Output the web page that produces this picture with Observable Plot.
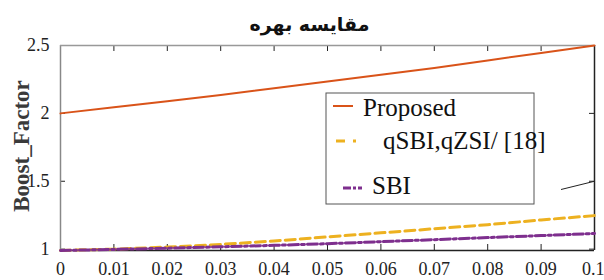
<!DOCTYPE html>
<html>
<head>
<meta charset="utf-8">
<script src="https://cdn.jsdelivr.net/npm/d3@7"></script>
<script src="https://cdn.jsdelivr.net/npm/@observablehq/plot@0.6"></script>
<style>
  html, body { margin: 0; padding: 0; background: #fff; }
  #chart svg { display: block; }
</style>
</head>
<body>
<div id="chart"></div>
<script>
// ---- data ----
const xValues  = [0, 0.01, 0.02, 0.03, 0.04, 0.05, 0.06, 0.07, 0.08, 0.09, 0.1];
const proposed = [2.0, 2.045, 2.09, 2.135, 2.185, 2.235, 2.285, 2.335, 2.39, 2.445, 2.5];
const qsbi     = [0.99, 1.0, 1.015, 1.035, 1.06, 1.09, 1.12, 1.15, 1.18, 1.215, 1.247];
const sbi      = [0.99, 0.998, 1.007, 1.017, 1.028, 1.04, 1.055, 1.07, 1.085, 1.10, 1.115];
const xTicks = [0, 0.01, 0.02, 0.03, 0.04, 0.05, 0.06, 0.07, 0.08, 0.09, 0.1];
const yTicks = [1, 1.5, 2, 2.5];
const strayX = [0.0938, 0.1];
const strayY = [1.44, 1.5];
const seriesNames = ["Proposed", "qSBI,qZSI/ [18]", "SBI"];
const titleText = "مقایسه بهره";
const yLabel = "Boost_Factor";

const W = 604, H = 280;
const mL = 60, mR = 10, mT = 45, mB = 30;
const fw = W - mL - mR, fh = H - mT - mB;
const serif = "'Liberation Serif', 'Times New Roman', serif";

const rows = (ys) => xValues.map((x, i) => ({x, y: ys[i]}));
const stray = strayX.map((x, i) => ({x, y: strayY[i]}));
const fmtX = d => d === 0 ? "0" : (d === 0.1 ? "0.1" : d.toFixed(2));

const colors = ["#D95319", "#EDB120", "#7E2F8E"];

const axisStyle = {tickSize: 0, fontSize: 18, fill: "#222", fontFamily: serif, fontVariant: "normal", label: null};

const plot = Plot.plot({
  width: W, height: H,
  marginLeft: mL, marginRight: mR, marginTop: mT, marginBottom: mB,
  style: {fontFamily: serif, background: "#fff", overflow: "visible"},
  x: {domain: [0, 0.1]},
  y: {domain: [0.99, 2.5]},
  marks: [
    Plot.axisX({...axisStyle, ticks: xTicks.slice(0, -1), tickPadding: 12, tickFormat: fmtX}),
    Plot.axisX({...axisStyle, ticks: xTicks.slice(-1), tickPadding: 12, tickFormat: fmtX, textAnchor: "end", dx: 10}),
    Plot.axisY({...axisStyle, ticks: yTicks, tickPadding: 11, tickFormat: d => String(d)}),
    // inward ticks
    Plot.tickX(xTicks, {x: d => d, insetTop: fh - 6, stroke: "#222", strokeWidth: 1}),
    Plot.tickX(xTicks, {x: d => d, insetBottom: fh - 6, stroke: "#222", strokeWidth: 1}),
    Plot.tickY(yTicks, {y: d => d, insetRight: fw - 5, stroke: "#222", strokeWidth: 1}),
    Plot.tickY(yTicks, {y: d => d, insetLeft: fw - 5, stroke: "#222", strokeWidth: 1}),
    // box
    Plot.ruleX([0], {stroke: "#888", strokeWidth: 1.5}),
    Plot.ruleX([0.1], {stroke: "#222", strokeWidth: 1.5}),
    Plot.ruleY([2.5], {stroke: "#999", strokeWidth: 1.5}),
    Plot.ruleY([0.99], {stroke: "#222", strokeWidth: 1.5}),
    // series
    Plot.line(rows(qsbi), {x: "x", y: "y", stroke: colors[1], strokeWidth: 3, strokeDasharray: "10,5"}),
    Plot.line(rows(sbi), {x: "x", y: "y", stroke: colors[2], strokeWidth: 3, strokeDasharray: "10,3,3,3"}),
    Plot.line(rows(proposed), {x: "x", y: "y", stroke: colors[0], strokeWidth: 2}),
    Plot.line(stray, {x: "x", y: "y", stroke: "#222", strokeWidth: 1}),
    // title and y label
    Plot.text([titleText], {text: d => d, frameAnchor: "top", lineAnchor: "middle", textAnchor: "middle",
      dy: -21, dx: -18, fontSize: 19, fontWeight: "bold", fontFamily: "'DejaVu Sans', sans-serif", fill: "#111"}),
    Plot.text([yLabel], {text: d => d, frameAnchor: "left", rotate: -90, textAnchor: "middle", lineAnchor: "middle",
      dx: -39, dy: -2, fontSize: 23, fontWeight: "bold", fontFamily: serif, fill: "#3a3a3a"})
  ]
});

document.getElementById("chart").appendChild(plot);

// legend
const svg = d3.select(plot);
const lg = svg.append("g").attr("font-family", serif).attr("text-anchor", "start");
lg.append("rect").attr("x", 326).attr("y", 93).attr("width", 208).attr("height", 111)
  .attr("fill", "#fff").attr("stroke", "#555").attr("stroke-width", 1);
const entries = [
  {name: seriesNames[0], color: colors[0], dash: null, w: 2, x1: 333, x2: 353, ly: 106, tx: 363, ty: 110},
  {name: seriesNames[1], color: colors[1], dash: "9,8", w: 3, x1: 336, x2: 356, ly: 141, tx: 383, ty: 143},
  {name: seriesNames[2], color: colors[2], dash: "8,2,3,2", w: 3, x1: 343, x2: 362, ly: 188, tx: 372, ty: 188}
];
for (const e of entries) {
  const l = lg.append("line").attr("x1", e.x1).attr("x2", e.x2).attr("y1", e.ly).attr("y2", e.ly)
    .attr("stroke", e.color).attr("stroke-width", e.w);
  if (e.dash) l.attr("stroke-dasharray", e.dash);
  lg.append("text").attr("x", e.tx).attr("y", e.ty).attr("dominant-baseline", "middle")
    .attr("text-anchor", "start").attr("font-size", 25).attr("fill", "#111").text(e.name);
}
</script>
</body>
</html>
